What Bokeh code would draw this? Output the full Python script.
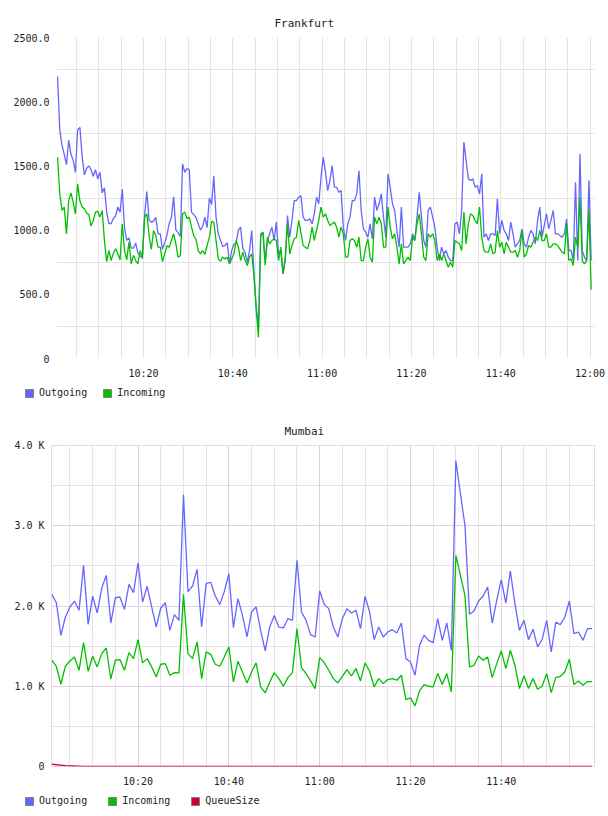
import numpy as np
import pandas as pd
from bokeh.plotting import figure
from bokeh.models import (FixedTicker, Grid, Legend, LegendItem, DatetimeTickFormatter,
                          ColumnDataSource, CustomJSTickFormatter, Range1d)
from bokeh.layouts import column
from bokeh.embed import file_html
from bokeh.resources import INLINE

FONT = "DejaVu Sans Mono"
DAY = "2024-01-01"

# ---------------- Frankfurt (one sample every 30 s from 10:00:45) ----------------
fra_start = "10:00:45"
fra_step_s = 30
fra_outgoing = [
    2196, 1780, 1660, 1590, 1510, 1700, 1590, 1545, 1450, 1780,
    1800, 1580, 1430, 1480, 1500, 1470, 1420, 1470, 1400, 1450,
    1290, 1330, 1140, 1050, 1050, 1090, 1110, 1180, 1140, 1320,
    1020, 920, 940, 860, 860, 900, 820, 800, 780, 1120,
    1300, 1080, 1060, 1070, 1100, 970, 970, 850, 900, 960,
    1050, 1100, 1260, 1000, 980, 950, 1516, 1450, 1480, 1470,
    1140, 1120, 1100, 1050, 1000, 1030, 1100, 1020, 1250, 1200,
    1420, 1100, 970, 920, 870, 880, 900, 740, 840, 890,
    900, 1000, 1023, 854, 828, 750, 841, 997, 659, 400,
    244, 971, 984, 763, 919, 971, 1023, 919, 1062, 815,
    841, 659, 763, 1114, 945, 1075, 1230, 1230, 1256, 1269,
    1101, 1075, 1075, 1088, 1049, 1127, 1256, 1205, 1412, 1568,
    1451, 1308, 1386, 1503, 1334, 1334, 1295, 1308, 1023, 919,
    1049, 1101, 1230, 1230, 1282, 1464, 1153, 1010, 984, 945,
    1049, 932, 1256, 1153, 1205, 1282, 1101, 945, 1438, 1334,
    1205, 1153, 997, 867, 1179, 867, 867, 867, 893, 971,
    919, 1101, 1295, 1101, 919, 867, 1153, 1179, 1101, 1023,
    867, 763, 867, 815, 841, 789, 763, 763, 1049, 1062,
    971, 1153, 1685, 1542, 1399, 1386, 1399, 1334, 1347, 1282,
    1438, 945, 971, 919, 971, 971, 958, 1244, 971, 1075,
    997, 971, 919, 1062, 971, 867, 893, 919, 1010, 893,
    867, 945, 997, 971, 893, 1075, 1179, 945, 1036, 1127,
    1010, 1075, 1153, 971, 971, 958, 945, 971, 1088, 841,
    841, 763, 1373, 763, 1594, 841, 789, 763, 1386, 763,
]
fra_incoming = [
    1568, 1282, 1153, 1179, 971, 1230, 1290, 1218, 1127, 1360,
    1230, 1179, 1166, 1132, 1122, 1031, 1075, 1140, 1147, 1101,
    1153, 919, 755, 841, 763, 820, 854, 815, 768, 1049,
    841, 768, 906, 737, 802, 763, 737, 841, 789, 1101,
    1127, 958, 849, 997, 958, 867, 867, 755, 815, 877,
    867, 919, 971, 893, 789, 800, 1127, 1140, 1088, 1101,
    1023, 958, 927, 841, 815, 841, 810, 880, 945, 1067,
    1062, 919, 776, 758, 789, 776, 789, 737, 776, 815,
    919, 867, 763, 828, 763, 724, 789, 815, 633, 374,
    166, 958, 984, 724, 945, 893, 919, 932, 919, 763,
    867, 659, 789, 1049, 815, 880, 932, 945, 1075, 984,
    880, 867, 854, 919, 1023, 919, 997, 1075, 1179, 1101,
    1127, 1075, 1036, 1049, 1062, 1023, 945, 1023, 971, 789,
    789, 919, 932, 919, 867, 945, 763, 763, 867, 932,
    789, 750, 1101, 1049, 1101, 1049, 867, 867, 1179, 1023,
    932, 971, 867, 737, 893, 737, 763, 789, 763, 945,
    919, 1049, 1127, 971, 789, 763, 971, 945, 971, 919,
    763, 815, 763, 815, 763, 711, 750, 711, 919, 906,
    893, 841, 1140, 893, 1049, 1127, 1114, 1075, 1049, 1179,
    945, 841, 828, 828, 893, 815, 828, 997, 867, 906,
    815, 906, 867, 828, 828, 841, 789, 841, 997, 789,
    815, 880, 867, 906, 945, 919, 997, 919, 919, 971,
    867, 867, 893, 893, 880, 854, 828, 815, 1049, 763,
    776, 724, 945, 867, 1256, 763, 737, 763, 1153, 535,
]
fra_y_ticks = [0, 500, 1000, 1500, 2000, 2500]
fra_x_labels = ["10:20", "10:40", "11:00", "11:20", "11:40", "12:00"]

# ---------------- Mumbai (one sample every minute from 10:01) ----------------
mum_start = "10:01:00"
mum_step_s = 60
mum_outgoing = [
    2145, 2041, 1634, 1863, 1988, 2062, 1946, 2506, 1771, 2124,
    1913, 2224, 2382, 1788, 2103, 2112, 1958, 2269, 2166, 2539,
    2050, 2245, 1988, 1738, 1975, 2041, 1697, 1892, 1821, 3386,
    2178, 2249, 2457, 1738, 2282, 2295, 2124, 2017, 2182, 2402,
    1730, 2091, 1883, 1614, 1925, 1988, 1697, 1440, 1738, 1883,
    1738, 1726, 1842, 1821, 2568, 1925, 1821, 1643, 1614, 2187,
    2021, 1967, 1738, 1614, 1842, 1967, 1913, 1946, 1718, 2120,
    1925, 1581, 1738, 1614, 1676, 1705, 1664, 1788, 1344, 1303,
    1137, 1511, 1635, 1572, 1543, 1842, 1572, 1788, 1448, 3813,
    3399, 3004, 1896, 1938, 2062, 2124, 2237, 1788, 2070, 2328,
    2037, 2436, 2029, 1697, 1821, 1581, 1710, 1490, 1581, 1821,
    1427, 1800, 1767, 1863, 2062, 1656, 1676, 1572, 1718, 1718,
]
mum_incoming = [
    1324, 1249, 1025, 1253, 1315, 1365, 1199, 1543, 1187, 1374,
    1241, 1407, 1477, 1091, 1324, 1332, 1199, 1419, 1344, 1581,
    1291, 1344, 1241, 1116, 1274, 1282, 1137, 1170, 1166, 2145,
    1407, 1344, 1552, 1095, 1428, 1398, 1274, 1249, 1365, 1490,
    1054, 1311, 1178, 1041, 1178, 1291, 992, 917, 1054, 1170,
    1095, 1000, 1108, 1170, 1718, 1232, 1158, 1066, 971, 1357,
    1295, 1199, 1095, 1041, 1124, 1207, 1129, 1220, 1066, 1291,
    1187, 992, 1095, 1033, 1083, 1095, 1075, 1137, 834, 855,
    755, 942, 1021, 1000, 992, 1158, 1021, 1158, 929, 2630,
    2381, 2132, 1241, 1261, 1378, 1324, 1365, 1108, 1282, 1440,
    1220, 1448, 1261, 971, 1128, 971, 1095, 963, 1000, 1158,
    921, 1108, 1124, 1178, 1336, 1021, 1066, 1012, 1058, 1058,
]
mum_queue = [
    29, 22, 17, 12, 9, 6, 4, 2, 1, 0,
    0, 0, 0, 0, 0, 0, 0, 0, 0, 0,
    0, 0, 0, 0, 0, 0, 0, 0, 0, 0,
    0, 0, 0, 0, 0, 0, 0, 0, 0, 0,
    0, 0, 0, 0, 0, 0, 0, 0, 0, 0,
    0, 0, 0, 0, 0, 0, 0, 0, 0, 0,
    0, 0, 0, 0, 0, 0, 0, 0, 0, 0,
    0, 0, 0, 0, 0, 0, 0, 0, 0, 0,
    0, 0, 0, 0, 0, 0, 0, 0, 0, 0,
    0, 0, 0, 0, 0, 0, 0, 0, 0, 0,
    0, 0, 0, 0, 0, 0, 0, 0, 0, 0,
    0, 0, 0, 0, 0, 0, 0, 0, 0, 0,
]
mum_y_ticks = [0, 1000, 2000, 3000, 4000]
mum_x_labels = ["10:20", "10:40", "11:00", "11:20", "11:40"]

C_OUT = "#6666ff"
C_IN = "#00c000"
C_Q = "#cc0033"
TXT = "#222222"


def ms(hhmm):
    return pd.Timestamp(f"{DAY} {hhmm}").value / 1e6


def times(start, step_s, n):
    t0 = pd.Timestamp(f"{DAY} {start}")
    return t0 + pd.to_timedelta(np.arange(n) * step_s, unit="s")


def every5(first, last):
    return [t.value / 1e6 for t in pd.date_range(f"{DAY} {first}", f"{DAY} {last}", freq="5min")]


def make_fig(title, x0, x1, y_ticks, left, title_offset, yfmt):
    p = figure(width=608, height=384, x_axis_type="datetime",
               x_range=Range1d(ms(x0), ms(x1)), y_range=Range1d(0, y_ticks[-1]),
               output_backend="svg", toolbar_location=None,
               min_border_left=left, min_border_right=14, min_border_top=37,
               min_border_bottom=26)
    p.background_fill_color = "white"
    p.border_fill_color = "white"
    p.title.text = title
    p.title.text_font = FONT
    p.title.text_font_size = "11px"
    p.title.text_font_style = "normal"
    p.title.text_color = TXT
    p.title.align = "left"
    p.title.offset = title_offset
    p.title.standoff = 16
    for ax in (p.xaxis[0], p.yaxis[0]):
        ax.axis_line_color = None
        ax.major_tick_in = 0
        ax.major_tick_out = 0
        ax.minor_tick_in = 0
        ax.minor_tick_out = 0
        ax.major_label_text_font = FONT
        ax.major_label_text_font_size = "10px"
        ax.major_label_text_color = TXT
    p.xaxis[0].major_label_standoff = 9
    p.yaxis[0].major_label_standoff = 7
    p.xaxis[0].formatter = DatetimeTickFormatter(
        minutes="%H:%M", hourmin="%H:%M", hours="%H:%M", minsec="%H:%M", seconds="%H:%M")
    p.yaxis[0].ticker = FixedTicker(ticks=y_ticks)
    p.yaxis[0].formatter = CustomJSTickFormatter(code=yfmt)
    return p


def legend_strip(entries, spacing, top_gap):
    s = figure(width=608, height=24, x_range=Range1d(0, 1), y_range=Range1d(0, 1),
               output_backend="svg", toolbar_location=None,
               x_axis_location=None, y_axis_location=None, min_border=0)
    s.outline_line_color = None
    s.grid.visible = False
    s.background_fill_color = "white"
    s.border_fill_color = "white"
    items = []
    for label, color in entries:
        # one placeholder row (NaN, so nothing is drawn) gives the legend its colours
        src = ColumnDataSource(dict(l=np.array([np.nan]), r=np.array([np.nan]),
                                    t=np.array([np.nan]), b=np.array([np.nan])))
        r = s.quad(left="l", right="r", top="t", bottom="b", source=src,
                   fill_color=color, line_color="#808080", line_width=1)
        items.append(LegendItem(label=label, renderers=[r]))
    lg = Legend(items=items, location=(24, 24 - top_gap - 12), orientation="horizontal",
                glyph_width=10, glyph_height=10, label_standoff=5, spacing=spacing,
                padding=0, margin=0, border_line_color=None, background_fill_alpha=0,
                label_text_font=FONT, label_text_font_size="10px", label_text_color=TXT,
                label_height=10, label_width=10)
    s.add_layout(lg, "center")
    return s


# ---------------- Frankfurt figure ----------------
p1 = make_fig("Frankfurt", "10:00:31", "12:01:00", fra_y_ticks, 56, 218,
              "return tick == 0 ? '0' : tick.toFixed(1);")
p1.outline_line_color = None
p1.xaxis[0].ticker = FixedTicker(ticks=[ms(t) for t in fra_x_labels])
p1.xgrid.ticker = FixedTicker(ticks=every5("10:05", "12:00"))
p1.xgrid.grid_line_color = "#e4e4e4"
p1.ygrid.ticker = FixedTicker(ticks=[v + 250 for v in fra_y_ticks[:-1]])
p1.ygrid.grid_line_color = "#e4e4e4"

ft = times(fra_start, fra_step_s, len(fra_outgoing))
p1.line(ft, fra_outgoing, line_color=C_OUT, line_width=1.3)
p1.line(ft, fra_incoming, line_color=C_IN, line_width=1.3)
l1 = legend_strip([("Outgoing", C_OUT), ("Incoming", C_IN)], 15, 2)

# ---------------- Mumbai figure ----------------
p2 = make_fig("Mumbai", "10:00:56", "12:00:32", mum_y_ticks, 51, 233,
              "return tick == 0 ? '0' : (tick/1000).toFixed(1) + ' K';")
p2.outline_line_color = "#ead4ea"
p2.outline_line_width = 1
p2.xaxis[0].ticker = FixedTicker(ticks=[ms(t) for t in mum_x_labels])
major_x = [ms(t) for t in mum_x_labels]
minor_x = [t for t in every5("10:05", "11:55") if t not in major_x]
p2.xgrid.ticker = FixedTicker(ticks=minor_x)
p2.xgrid.grid_line_color = "#e6e2e6"
p2.add_layout(Grid(dimension=0, ticker=FixedTicker(ticks=major_x),
                   grid_line_color="#e2c8e2"))
minor_y = [v + 500 for v in mum_y_ticks[:-1]]
p2.ygrid.ticker = FixedTicker(ticks=minor_y)
p2.ygrid.grid_line_color = "#e6e2e6"
p2.add_layout(Grid(dimension=1, ticker=FixedTicker(ticks=mum_y_ticks[1:-1]),
                   grid_line_color="#e6d0e6"))

mt = times(mum_start, mum_step_s, len(mum_outgoing))
p2.line(mt, mum_outgoing, line_color=C_OUT, line_width=1.3)
p2.line(mt, mum_incoming, line_color=C_IN, line_width=1.3)
p2.line(mt, mum_queue, line_color=C_Q, line_width=1.3)
l2 = legend_strip([("Outgoing", C_OUT), ("Incoming", C_IN), ("QueueSize", C_Q)], 20, 2)

# each plot in its own box so that the frames are not aligned with each other
layout = column(column(p1), column(l1), column(p2), column(l2), spacing=0)
open("out.html", "w").write(file_html(layout, INLINE))
